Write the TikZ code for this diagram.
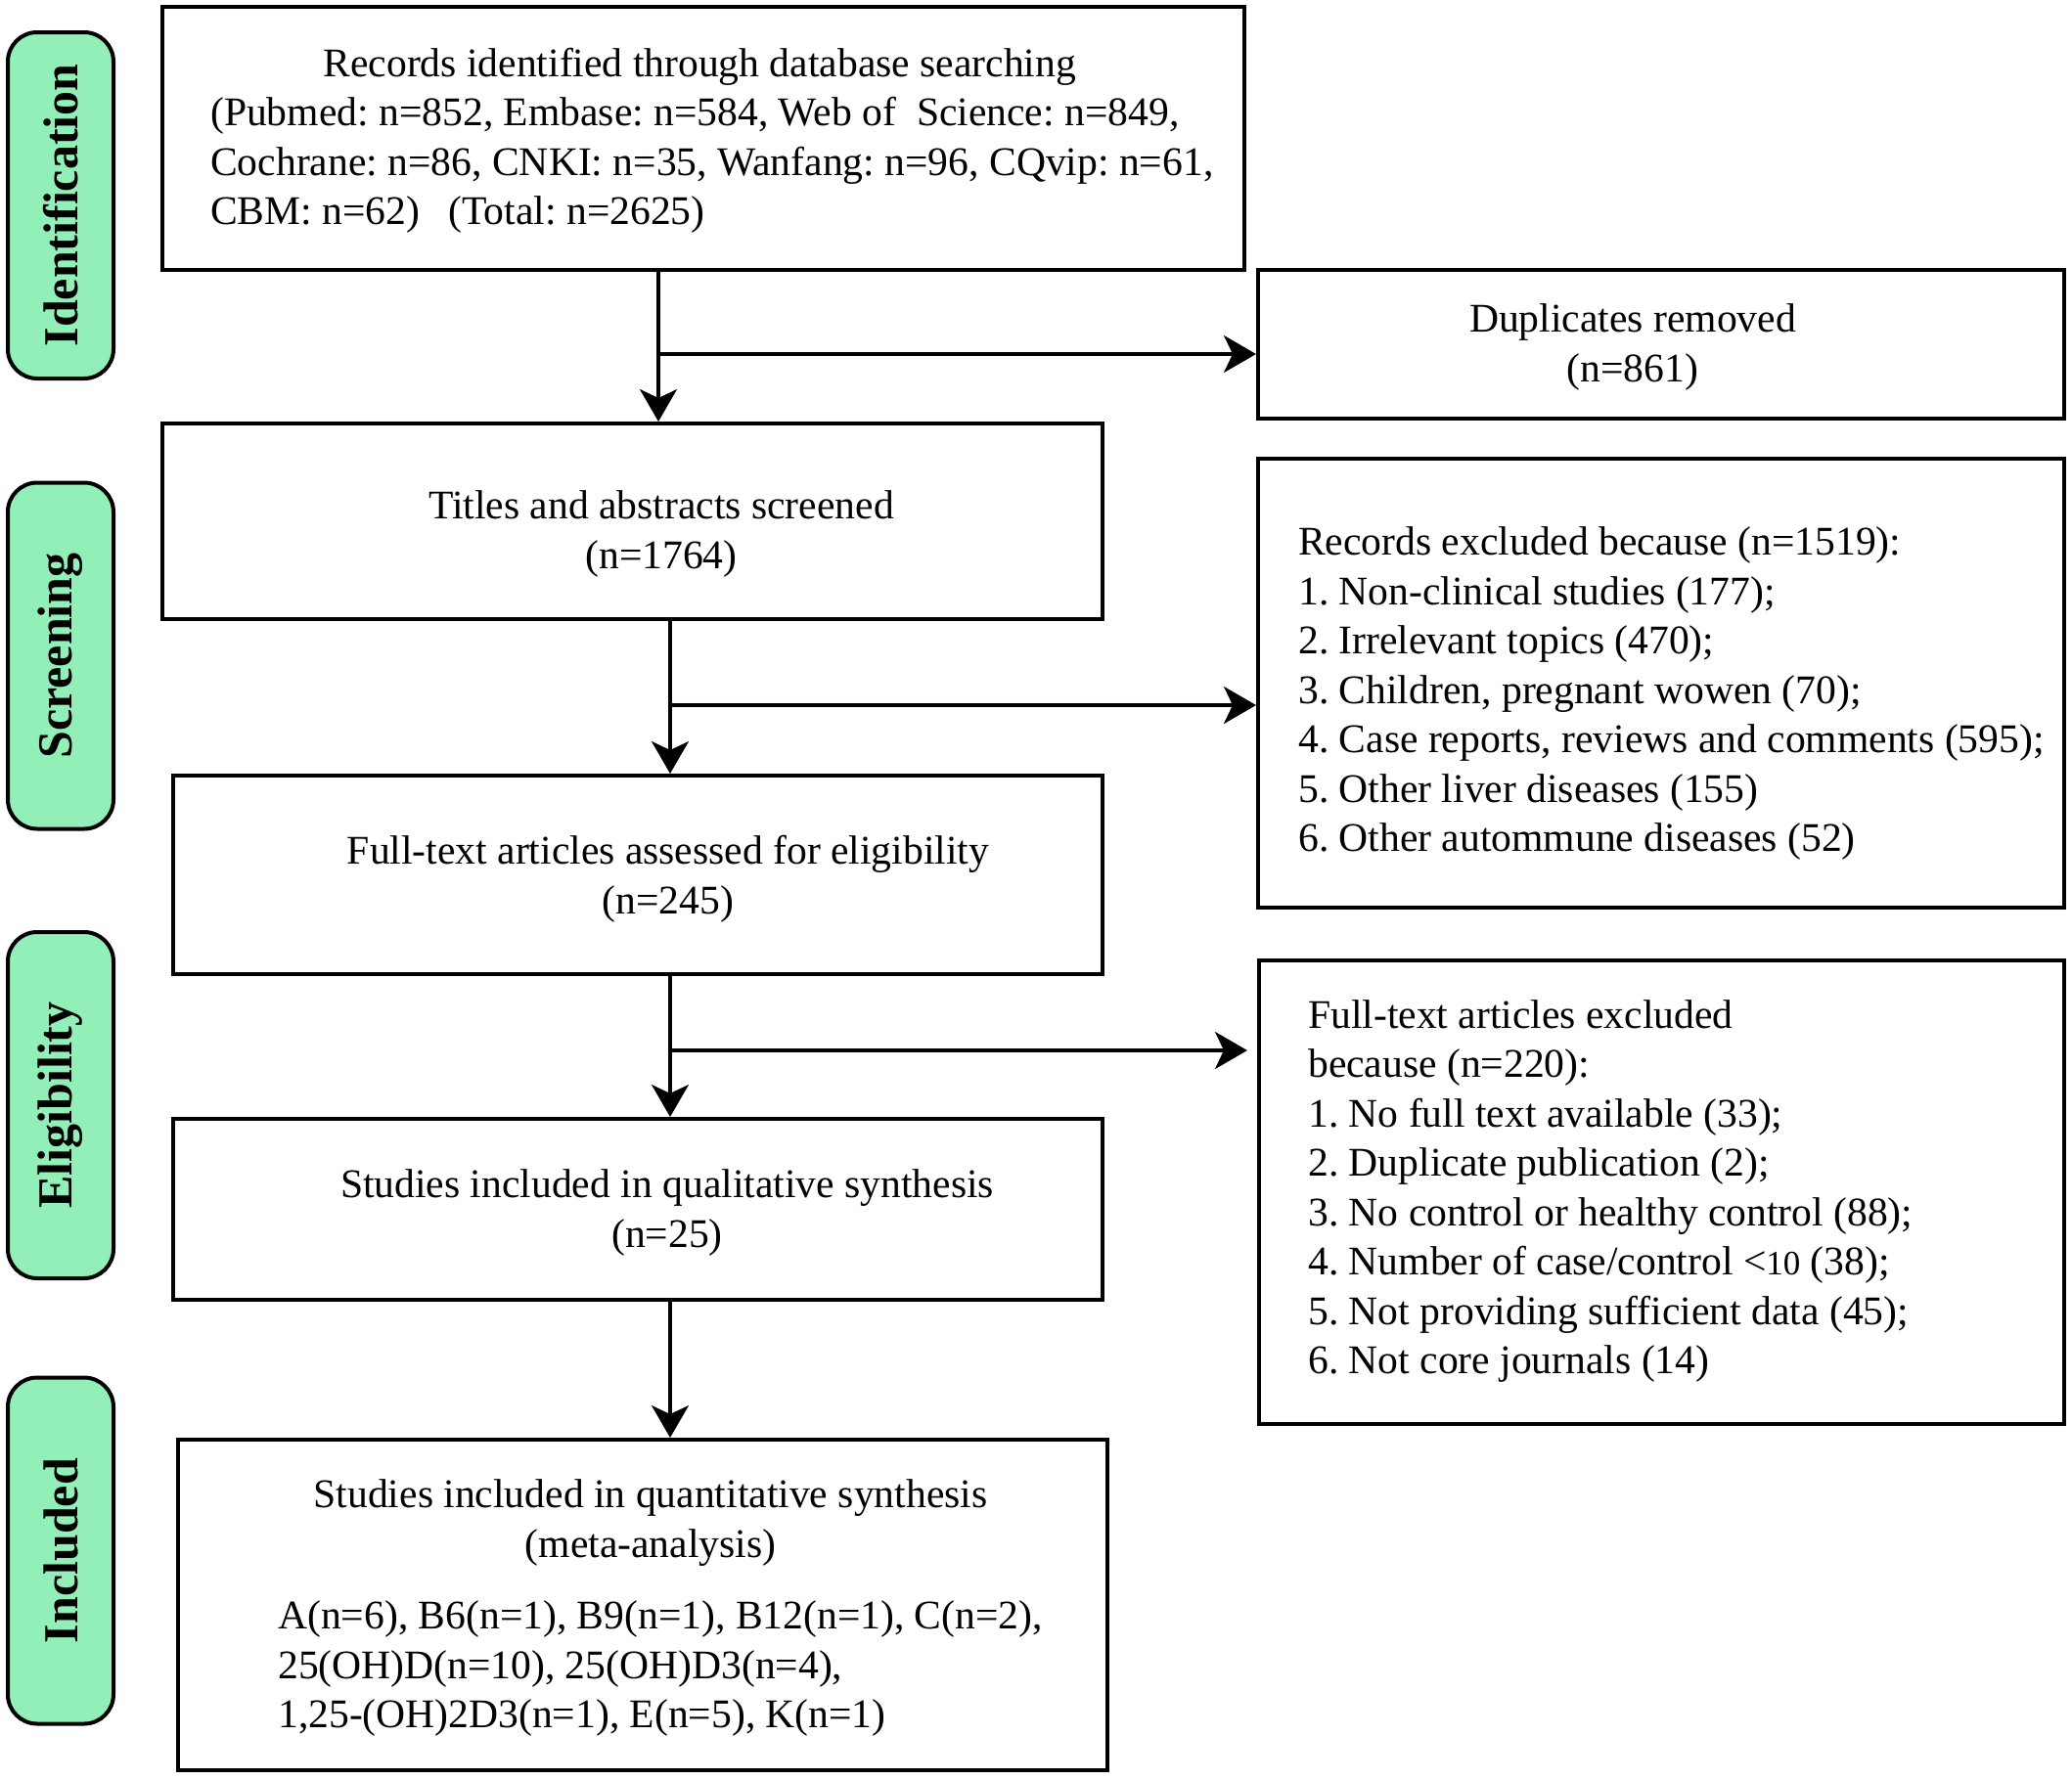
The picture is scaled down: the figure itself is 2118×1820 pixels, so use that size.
\documentclass[tikz,border=0pt]{standalone}
\usepackage{fontspec}
\setmainfont{Liberation Serif}
\usetikzlibrary{arrows.meta}
\definecolor{pillgreen}{RGB}{146,239,183}
\frenchspacing
\begin{document}
\begin{tikzpicture}[x=1pt,y=-1pt,
  every node/.style={font=\frenchspacing\fontsize{41.6}{50.5}\selectfont},
  box/.style={draw=black, line width=4pt, rectangle, inner sep=0pt},
  pill/.style={draw=black, line width=4pt, fill=pillgreen, rounded corners=30pt, rotate=90, minimum width=354pt, minimum height=108pt, inner sep=0pt, font=\bfseries\fontsize{50}{60}\selectfont},
  txt/.style={inner sep=0pt, align=left},
  ctxt/.style={inner sep=0pt, align=center},
  arr/.style={draw=black, line width=3.4pt, -{Stealth[length=33pt, width=38pt, inset=9pt]}},
  ln/.style={draw=black, line width=3.4pt}]
\useasboundingbox (0,0) rectangle (2118,1820);
\fill[white] (0,0) rectangle (2118,1820);

% phase pills
\node[pill] (pid) at (62,210) {Identification};
\node[pill] (psc) at (62,670.5) {Screening};
\node[pill] (pel) at (62,1130) {Eligibility};
\node[pill] (pin) at (62,1585.5) {Included};

% boxes
\node[box, minimum width=1106pt, minimum height=269pt] (rec) at (719,141.5) {};
\node[box, minimum width=824pt, minimum height=152pt] (dup) at (1698,352) {};
\node[box, minimum width=961pt, minimum height=200pt] (tit) at (646.5,533) {};
\node[box, minimum width=824pt, minimum height=459pt] (rex) at (1698,698.5) {};
\node[box, minimum width=950pt, minimum height=203pt] (ft) at (652,894.5) {};
\node[box, minimum width=823pt, minimum height=474pt] (fex) at (1698.5,1219) {};
\node[box, minimum width=950pt, minimum height=185pt] (qual) at (652,1236.5) {};
\node[box, minimum width=950pt, minimum height=338pt] (quant) at (657,1641) {};

% texts
\node[txt, anchor=west] (trec) at (215,144) {\makebox[1000pt][c]{Records identified through database searching}\\(Pubmed: n=852, Embase: n=584, Web of\ \ Science: n=849,\\Cochrane: n=86, CNKI: n=35, Wanfang: n=96, CQvip: n=61,\\CBM: n=62)\hspace{0.7em}(Total: n=2625)};
\node[ctxt] (tdup) at (1669,355) {Duplicates removed\\(n=861)};
\node[ctxt] (ttit) at (676,546) {Titles and abstracts screened\\(n=1764)};
\node[txt, anchor=west] (trex) at (1327,709) {Records excluded because (n=1519):\\1. Non-clinical studies (177);\\2. Irrelevant topics (470);\\3. Children, pregnant wowen (70);\\4. Case reports, reviews and comments (595);\\5. Other liver diseases (155)\\6. Other autommune diseases (52)};
\node[ctxt] (tft) at (683,899) {Full-text articles assessed for eligibility\\(n=245)};
\node[txt, anchor=west] (tfex) at (1337,1218) {Full-text articles excluded\\because (n=220):\\1. No full text available (33);\\2. Duplicate publication (2);\\3. No control or healthy control (88);\\4. Number of case/control <{\fontsize{35}{50.5}\selectfont 10} (38);\\5. Not providing sufficient data (45);\\6. Not core journals (14)};
\node[ctxt] (tqual) at (682,1240) {Studies included in qualitative synthesis\\(n=25)};
\node[ctxt] (tquant) at (665,1557) {Studies included in quantitative synthesis\\(meta-analysis)};
\node[txt, anchor=west] (tlist) at (284,1706) {A(n=6), B6(n=1), B9(n=1), B12(n=1), C(n=2),\\25(OH)D(n=10), 25(OH)D3(n=4),\\1,25-(OH)2D3(n=1), E(n=5), K(n=1)};

% connectors
\coordinate (xa) at (673,0);
\coordinate (xb) at (685,0);
\coordinate (b1) at (673,362);
\coordinate (b2) at (685,721);
\coordinate (b3) at (685,1074);
\coordinate (e3) at (1275,1074);

\draw[arr] (rec.south -| xa) -- (tit.north -| xa);
\draw[arr] (b1) -- (b1 -| dup.west);
\draw[arr] (tit.south -| xb) -- (ft.north -| xb);
\draw[arr] (b2) -- (b2 -| rex.west);
\draw[arr] (ft.south -| xb) -- (qual.north -| xb);
\draw[arr] (b3) -- (e3);
\draw[arr] (qual.south -| xb) -- (quant.north -| xb);
\end{tikzpicture}
\end{document}
